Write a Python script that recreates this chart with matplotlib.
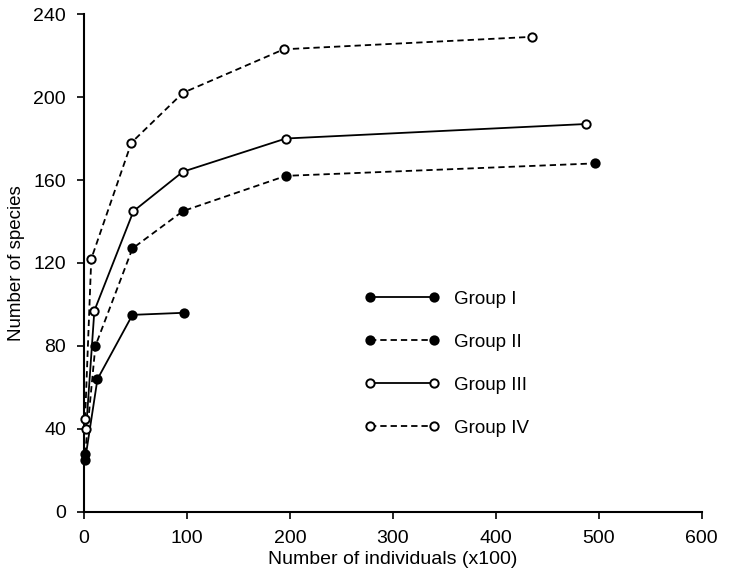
"""Species accumulation curves, four groups"""

import matplotlib
matplotlib.use("Agg")
from matplotlib import pyplot as plt

plt.rcParams['font.family'] = ['Liberation Sans', 'DejaVu Sans']

# data (x in hundreds of individuals)
group1_x = [1, 13, 47, 97]
group1_y = [25, 64, 95, 96]
group2_x = [1, 11, 47, 96, 196, 496]
group2_y = [28, 80, 127, 145, 162, 168]
group3_x = [2, 10, 48, 96, 196, 488]
group3_y = [40, 97, 145, 164, 180, 187]
group4_x = [1, 7, 46, 96, 194, 435]
group4_y = [45, 122, 178, 202, 223, 229]

labels = ["Group I", "Group II", "Group III", "Group IV"]
x_ticks = [0, 100, 200, 300, 400, 500, 600]
y_ticks = [0, 40, 80, 120, 160, 200, 240]

fig = plt.figure(figsize=(7.31, 5.77), dpi=100)
ax = fig.add_axes([0.115, 0.1127, 0.845, 0.8630])

dash = (0, (3.5, 2.2))
series = [
    (group1_x, group1_y, '-', 'black'),
    (group2_x, group2_y, dash, 'black'),
    (group3_x, group3_y, '-', 'white'),
    (group4_x, group4_y, dash, 'white'),
]
for (xs, ys, ls, face), lab in zip(series, labels):
    ax.plot(xs, ys, linestyle=ls, color='black', linewidth=1.3,
            marker='o', markersize=6, markerfacecolor=face,
            markeredgecolor='black', markeredgewidth=1.4,
            label=lab, clip_on=False, zorder=3)

ax.set_xlim(0, 600)
ax.set_ylim(0, 240)
ax.set_xticks(x_ticks)
ax.set_yticks(y_ticks)
for s in ['top', 'right']:
    ax.spines[s].set_visible(False)
for s in ['left', 'bottom']:
    ax.spines[s].set_linewidth(1.5)
ax.tick_params(direction='out', length=5, width=1.2, labelsize=14, pad=8)

ax.set_xlabel("Number of individuals (x100)", fontsize=14, labelpad=3)
ax.set_ylabel("Number of species", fontsize=13.5, labelpad=6)

leg = ax.legend(loc='upper left', bbox_to_anchor=(0.427, 0.478), frameon=False,
                fontsize=13.5, handlelength=4.0, handletextpad=0.77,
                labelspacing=1.38, numpoints=2)

fig.savefig("out.png", dpi=100)
